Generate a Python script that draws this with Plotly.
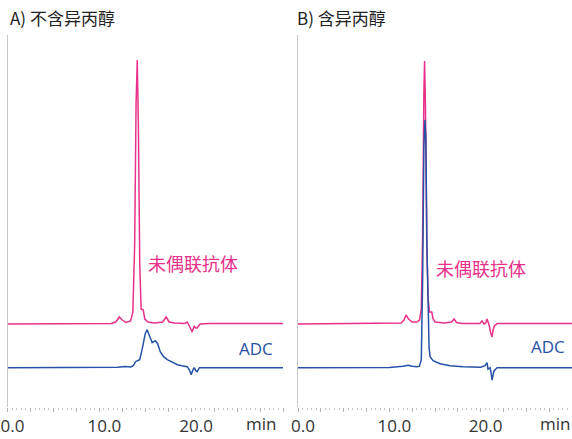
import plotly.graph_objects as go

W, H = 572, 439

# ---------------- data (time in min, detector response in arbitrary units) ----------------
# Panel A: without isopropanol
a_pink_t = [0, 10, 11.3, 11.8, 12.17, 12.5, 12.9, 13.4, 13.65, 13.85, 14.0, 14.13, 14.25, 14.4,
            14.55, 14.78, 14.95, 15.3, 16.0, 16.9, 17.28, 17.6, 18.2, 19.3, 19.57, 19.85, 20.1,
            20.33, 20.5, 20.65, 20.98, 22, 30]
a_pink_v = [0, 0.3, 0.5, 2, 7, 4, 1.5, 3, 12, 80, 220, 264, 200, 60,
            15, 14, 5, 2, 1, 2, 7, 2, 1, 0.5, 2, -3, -8,
            -2, -4, -4, 0, 0.5, 0.5]
a_blue_t = [0, 10, 12.0, 12.8, 13.4, 13.7, 13.95, 14.15, 14.4, 14.7, 15.0, 15.2, 15.45, 15.76,
            16.09, 16.35, 16.63, 17.0, 17.4, 18.0, 18.5, 19.0, 19.57, 19.85, 20.0, 20.2, 20.33,
            20.5, 20.65, 20.9, 30]
a_blue_v = [0, 0, 0.5, 1.2, 0.8, 2, 6, 7, 8, 20, 34, 38, 32, 25,
            27, 24, 16, 11, 8, 5, 3, 2, 1, -3, -7, -2, 0,
            -3, -4, 0, 0]

# Panel B: with isopropanol
b_pink_t = [0, 10, 11.3, 11.6, 11.83, 12.1, 12.5, 13.0, 13.3, 13.5, 13.65, 13.78, 13.86, 13.95,
            14.1, 14.25, 14.4, 14.64, 14.8, 15.0, 16.0, 16.8, 17.09, 17.35, 18.0, 19.9, 20.15,
            20.37, 20.55, 20.7, 20.85, 20.95, 21.1, 21.25, 21.36, 21.5, 21.8, 30]
b_pink_v = [0, 0.3, 1, 4, 9, 5, 2, 2, 4, 15, 90, 230, 263, 220,
            80, 25, 12, 12, 5, 2, 1, 2, 5, 1.5, 0.5, 0.5, 3,
            0, 1, 5, 1, -2, -9, -13, -6, -2, 0.5, 0.5]
b_blue_t = [0, 10, 11.5, 12.05, 12.5, 13.0, 13.3, 13.5, 13.65, 13.78, 13.9, 14.0, 14.12, 14.24,
            14.35, 14.46, 14.79, 15.55, 16.65, 18.07, 20.0, 20.48, 20.7, 20.8, 20.92, 21.03,
            21.15, 21.25, 21.36, 21.47, 21.8, 30]
b_blue_v = [0, 0.3, 1.5, 2.5, 1.5, 1, 1.5, 8, 90, 220, 248, 230, 120, 40,
            20, 11, 7, 4, 2, 1, 0.5, 2, 5, -1.5, -1, 0,
            -6, -12.5, -7, -3, 0, 0]

panel_titles = ["A) 不含异丙醇", "B) 含异丙醇"]
series_names = ["未偶联抗体", "ADC"]
tick_vals = [0, 2.5, 5, 7.5, 10, 12.5, 15, 17.5, 20, 22.5, 25, 27.5, 30]
tick_text = ["0.0", "", "", "", "10.0", "", "", "", "20.0", "", "", "", ""]
unit_label = "min"

# ---------------- styling ----------------
PINK = "#e8318a"
BLUE = "#2552a6"
PINK_OFFSET = 83
BLUE_OFFSET = 39.3
CJK = "Noto Sans CJK SC"
NUM = "Open Sans, Noto Sans CJK SC"


def px(x):
    """pixel x -> paper fraction"""
    return min(1.0, max(0.0, x / W))


def py(y):
    """pixel y (from top) -> paper fraction"""
    return min(1.0, max(0.0, 1 - y / H))


fig = go.Figure()

panels = [
    (a_pink_t, a_pink_v, a_blue_t, a_blue_v, "x", "y"),
    (b_pink_t, b_pink_v, b_blue_t, b_blue_v, "x2", "y2"),
]
for pt, pv, bt, bv, xa, ya in panels:
    fig.add_trace(go.Scatter(x=pt, y=[v + PINK_OFFSET for v in pv], mode="lines",
                             line=dict(color=PINK, width=1.5), xaxis=xa, yaxis=ya,
                             name=series_names[0], showlegend=False, hoverinfo="skip"))
    fig.add_trace(go.Scatter(x=bt, y=[v + BLUE_OFFSET for v in bv], mode="lines",
                             line=dict(color=BLUE, width=1.5), xaxis=xa, yaxis=ya,
                             name=series_names[1], showlegend=False, hoverinfo="skip"))

ydom = [py(407), py(35)]
xdoms = [[px(7.5), px(283)], [px(298), 1.0]]

xcommon = dict(range=[0, 30], showgrid=False, zeroline=False, showline=False,
               tickmode="array", tickvals=tick_vals, ticktext=tick_text,
               ticks="outside", ticklen=4, tickwidth=1, tickcolor="#b4b4b4",
               minor=dict(dtick=0.5, ticks="outside", ticklen=2, tickwidth=1, tickcolor="#c4c4c4"),
               tickfont=dict(family=NUM, size=17, color="#333333"),
               ticklabelshift=5, ticklabelstandoff=0, automargin=False, fixedrange=True)
ycommon = dict(range=[0, 372], showgrid=False, zeroline=False, showline=True,
               linecolor="#c8c8c8", linewidth=1, showticklabels=False, ticks="",
               domain=ydom, automargin=False, fixedrange=True)

fig.update_layout(
    width=W, height=H, margin=dict(l=0, r=0, t=0, b=0, autoexpand=False),
    paper_bgcolor="white", plot_bgcolor="white",
    xaxis=dict(domain=xdoms[0], anchor="y", **xcommon),
    xaxis2=dict(domain=xdoms[1], anchor="y2", **xcommon),
    yaxis=dict(anchor="x", **ycommon),
    yaxis2=dict(anchor="x2", **ycommon),
)

ann = []
# panel titles
ann.append(dict(x=px(8), y=py(18), text=panel_titles[0], xanchor="left", yanchor="middle",
                font=dict(family=CJK, size=17, color="#222222")))
ann.append(dict(x=px(295), y=py(18), text=panel_titles[1], xanchor="left", yanchor="middle",
                font=dict(family=CJK, size=17, color="#222222")))
# series labels
for cx, cy in [(193, 263), (481, 268)]:
    ann.append(dict(x=px(cx), y=py(cy), text=series_names[0], xanchor="center", yanchor="middle",
                    font=dict(family=CJK, size=18, color=PINK)))
for cx, cy in [(256, 348), (548, 346)]:
    ann.append(dict(x=px(cx), y=py(cy), text=series_names[1], xanchor="center", yanchor="middle",
                    font=dict(family=NUM, size=17, color=BLUE)))
# unit labels
for cx in [261, 555]:
    ann.append(dict(x=px(cx), y=py(423), text=unit_label, xanchor="center", yanchor="middle",
                    font=dict(family=NUM, size=17, color="#333333")))
for a in ann:
    a.update(xref="paper", yref="paper", showarrow=False)
fig.update_layout(annotations=ann)

# remove the default 8px page margin so the figure fills the window exactly
fig.write_html("out.html",
               config={"displayModeBar": False, "staticPlot": True},
               post_script="document.body.style.margin='0';document.body.style.overflow='hidden';")
